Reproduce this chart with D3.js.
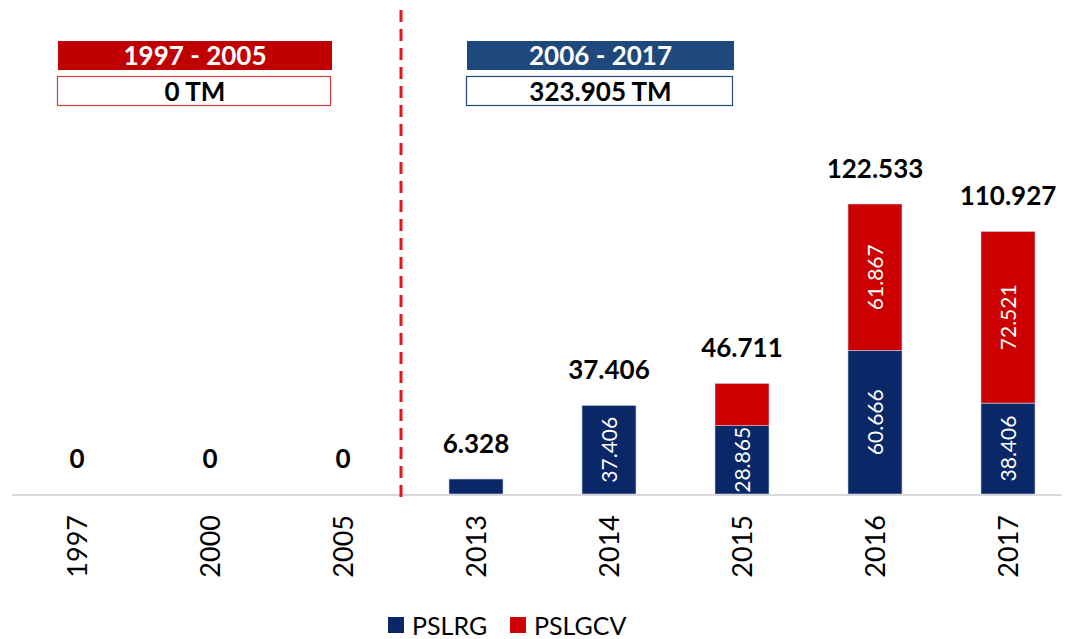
<!DOCTYPE html>
<html>
<head>
<meta charset="utf-8">
<script src="https://cdn.jsdelivr.net/npm/d3@7"></script>
<style>
  body { margin: 0; background: #fff; }
  text { font-family: Lato, "Open Sans", sans-serif; }
</style>
</head>
<body>
<svg id="chart" width="1069" height="639"></svg>
<script>
// data
const years = ["1997", "2000", "2005", "2013", "2014", "2015", "2016", "2017"];
const pslrg = [0, 0, 0, 6.328, 37.406, 28.865, 60.666, 38.406];
const pslgcv = [0, 0, 0, 0, 0, 17.846, 61.867, 72.521];
const totals = [0, 0, 0, 6.328, 37.406, 46.711, 122.533, 110.927];
const seriesNames = ["PSLRG", "PSLGCV"];
const periods = ["1997 - 2005", "2006 - 2017"];
const periodTotals = ["0 TM", "323.905 TM"];

const colors = ["#0a2768", "#cc0000"];
const headColors = ["#c00000", "#1f497d"];
const boxBorders = ["#d04040", "#1f497d"];

const fmt = v => v === 0 ? "0" : d3.format(".3f")(v);

const svg = d3.select("#chart");

const x = d3.scaleBand()
    .domain(years)
    .range([10.5, 1074.5])
    .paddingInner(0.594)
    .paddingOuter(0.297);

const baseY = 494;
const y = d3.scaleLinear()
    .domain([0, 122.533])
    .range([baseY, 204]);

// axis line
svg.append("line")
    .attr("x1", 12).attr("x2", 1062)
    .attr("y1", baseY + 1).attr("y2", baseY + 1)
    .attr("stroke", "#d9d9d9")
    .attr("stroke-width", 2);

// stacked bars
const rows = years.map((yr, i) => ({year: yr, PSLRG: pslrg[i], PSLGCV: pslgcv[i], total: totals[i]}));
const stack = d3.stack().keys(seriesNames)(rows);

stack.forEach((layer, li) => {
    const g = svg.append("g");
    g.selectAll("rect")
        .data(layer.filter(d => d[1] - d[0] > 0))
        .join("rect")
        .attr("x", d => x(d.data.year))
        .attr("width", x.bandwidth())
        .attr("y", d => y(d[1]))
        .attr("height", d => y(d[0]) - y(d[1]))
        .attr("fill", colors[li])
        .attr("stroke", "#c8cde0")
        .attr("stroke-width", 0.6);

    // value labels inside segments
    g.selectAll("text")
        .data(layer.filter(d => d[1] - d[0] > 20))
        .join("text")
        .attr("transform", d => {
            const cx = x(d.data.year) + x.bandwidth() / 2;
            const cy = (y(d[0]) + y(d[1])) / 2;
            return `translate(${cx},${cy}) rotate(-90)`;
        })
        .attr("text-anchor", "middle")
        .attr("dy", "0.36em")
        .attr("fill", "#fff")
        .attr("font-size", 21)
        .text(d => fmt(d[1] - d[0]));
});

// totals above bars
svg.append("g").selectAll("text")
    .data(rows)
    .join("text")
    .attr("x", d => x(d.year) + x.bandwidth() / 2)
    .attr("y", d => y(d.total) - 26)
    .attr("text-anchor", "middle")
    .attr("font-size", 26)
    .attr("font-weight", "bold")
    .attr("fill", "#000")
    .text(d => fmt(d.total));

// x tick labels, rotated
svg.append("g").selectAll("text")
    .data(years)
    .join("text")
    .attr("transform", d => `translate(${x(d) + x.bandwidth() / 2},515) rotate(-90)`)
    .attr("text-anchor", "end")
    .attr("dy", "0.36em")
    .attr("font-size", 27)
    .attr("fill", "#000")
    .text(d => d);

// dashed separator
svg.append("line")
    .attr("x1", 401).attr("x2", 401)
    .attr("y1", 10).attr("y2", 500)
    .attr("stroke", "#e8141c")
    .attr("stroke-width", 3)
    .attr("stroke-dasharray", "12,7");

// period header boxes
const boxes = [{x: 58, w: 274}, {x: 467, w: 267}];
boxes.forEach((b, i) => {
    svg.append("rect")
        .attr("x", b.x).attr("y", 41)
        .attr("width", b.w).attr("height", 29)
        .attr("fill", headColors[i]);
    svg.append("text")
        .attr("x", b.x + b.w / 2).attr("y", 56)
        .attr("dy", "0.36em")
        .attr("text-anchor", "middle")
        .attr("font-size", 26).attr("font-weight", "bold")
        .attr("fill", "#fff")
        .text(periods[i]);
    svg.append("rect")
        .attr("x", b.x - 0.5).attr("y", 76.5)
        .attr("width", b.w - 1).attr("height", 29)
        .attr("fill", "#fff")
        .attr("stroke", boxBorders[i])
        .attr("stroke-width", 1.2);
    svg.append("text")
        .attr("x", b.x + b.w / 2).attr("y", 92)
        .attr("dy", "0.36em")
        .attr("text-anchor", "middle")
        .attr("font-size", 26).attr("font-weight", "bold")
        .attr("fill", "#000")
        .text(periodTotals[i]);
});

// legend
const legend = svg.append("g");
const legX = [388, 510];
seriesNames.forEach((name, i) => {
    legend.append("rect")
        .attr("x", legX[i]).attr("y", 617)
        .attr("width", 16).attr("height", 16)
        .attr("fill", colors[i]);
    legend.append("text")
        .attr("x", legX[i] + 24).attr("y", 626)
        .attr("dy", "0.36em")
        .attr("font-size", 25)
        .attr("fill", "#000")
        .text(name);
});
</script>
</body>
</html>
